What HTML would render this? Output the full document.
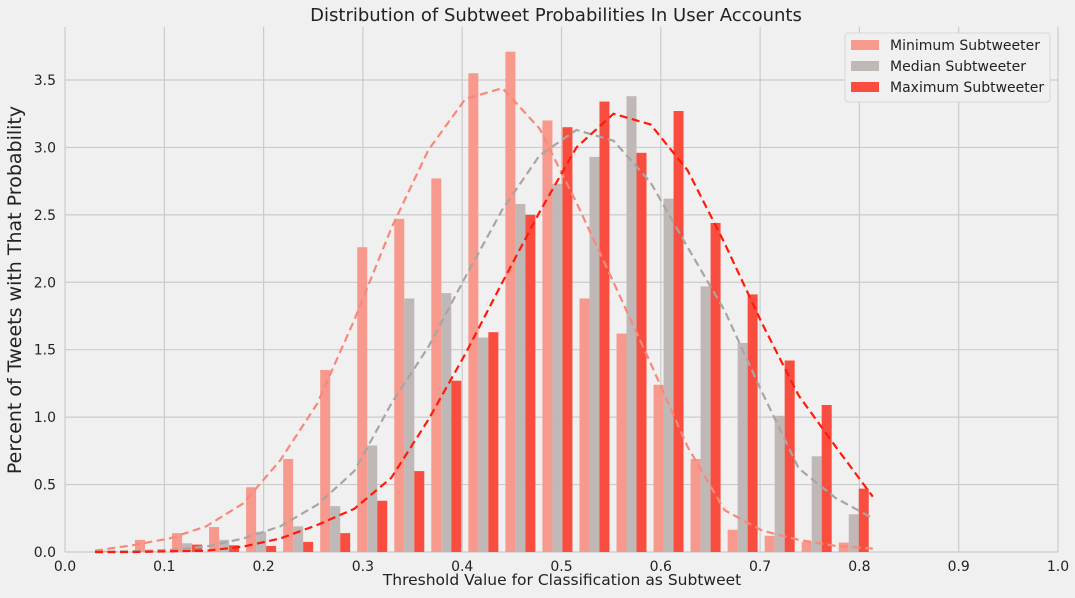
<!DOCTYPE html>
<html><head><meta charset="utf-8"><style>
html,body{margin:0;padding:0;background:#f0f0f0;}
svg{display:block;font-family:"DejaVu Sans","Liberation Sans",sans-serif;}
</style></head><body>
<svg id="chart" width="1075" height="598" viewBox="0 0 1075 598">
<rect width="1075" height="598" fill="#f0f0f0"/>
<g id="grid"></g>
<g id="bars"></g>
<g id="curves"></g>
<g id="ticks"></g>
<text x="556" y="21" font-size="18" text-anchor="middle" fill="#222">Distribution of Subtweet Probabilities In User Accounts</text>
<text x="562" y="585" font-size="15.5" text-anchor="middle" fill="#222">Threshold Value for Classification as Subtweet</text>
<text transform="translate(21,290) rotate(-90)" font-size="19" text-anchor="middle" fill="#222">Percent of Tweets with That Probability</text>
<g>
<rect x="845" y="33" width="205" height="69" rx="3" fill="#f0f0f0" stroke="#d8d8d8"/>
<rect x="851" y="40" width="28" height="10" fill="#f7998d"/>
<text x="890" y="50" font-size="14" fill="#222">Minimum Subtweeter</text>
<rect x="851" y="61" width="28" height="10" fill="#c0b8b7"/>
<text x="890" y="71" font-size="14" fill="#222">Median Subtweeter</text>
<rect x="851" y="82" width="28" height="10" fill="#f94e3f"/>
<text x="890" y="92" font-size="14" fill="#222">Maximum Subtweeter</text>
</g>
</svg>
<script>
const binStarts = [0.0332,0.0705,0.1078,0.1451,0.1824,0.2197,0.2570,0.2943,0.3316,0.3689,0.4062,0.4435,0.4808,0.5181,0.5554,0.5927,0.6300,0.6673,0.7046,0.7419,0.7792];
const minValues = [0.01,0.09,0.14,0.185,0.48,0.69,1.35,2.26,2.47,2.77,3.55,3.71,3.20,1.88,1.62,1.24,0.69,0.165,0.12,0.075,0.07];
const medValues = [0.005,0.01,0.065,0.09,0.15,0.19,0.34,0.79,1.88,1.92,1.59,2.58,2.73,2.93,3.38,2.62,1.97,1.55,1.01,0.71,0.28];
const maxValues = [0,0,0.055,0.05,0.045,0.075,0.14,0.38,0.60,1.27,1.63,2.50,3.15,3.34,2.96,3.27,2.44,1.91,1.42,1.09,0.47];
const curveX = [0.0302,0.0675,0.1048,0.1421,0.1794,0.2167,0.2540,0.2913,0.3286,0.3659,0.4032,0.4405,0.4778,0.5151,0.5524,0.5897,0.6270,0.6643,0.7016,0.7389,0.7762,0.8135];
const minCurve = [0.01,0.05,0.10,0.19,0.36,0.68,1.10,1.72,2.40,2.98,3.36,3.44,3.14,2.59,2.00,1.40,0.78,0.31,0.16,0.09,0.045,0.025];
const medCurve = [0,0.005,0.015,0.04,0.10,0.19,0.35,0.60,1.10,1.52,2.04,2.54,2.94,3.13,3.05,2.74,2.26,1.79,1.19,0.62,0.40,0.25];
const maxCurve = [0,0,0.005,0.01,0.04,0.10,0.20,0.32,0.55,0.98,1.47,2.00,2.52,3.00,3.25,3.17,2.83,2.29,1.70,1.16,0.78,0.41];
const xTicks = [0,0.1,0.2,0.3,0.4,0.5,0.6,0.7,0.8,0.9,1.0];
const yTicks = [0,0.5,1,1.5,2,2.5,3,3.5];

const NS = "http://www.w3.org/2000/svg";
const X0 = 65, XW = 993, Y0 = 552, YS = 134.86, YTOP = 27;
const xs = v => X0 + v * XW;
const ys = v => Y0 - v * YS;
function mk(tag, attrs, parent) {
  const e = document.createElementNS(NS, tag);
  for (const k in attrs) e.setAttribute(k, attrs[k]);
  parent.appendChild(e);
  return e;
}
const grid = document.getElementById('grid');
const ticks = document.getElementById('ticks');
xTicks.forEach(t => {
  const l = mk('line', {x1: xs(t), x2: xs(t), y1: YTOP, y2: Y0, stroke: '#cbcbcb', 'stroke-width': 1.2}, grid);
  
  
  const tx = mk('text', {x: xs(t), y: Y0 + 19, 'font-size': 14, 'text-anchor': 'middle', fill: '#222'}, ticks);
  tx.textContent = t.toFixed(1);
  
  
});
yTicks.forEach(t => {
  const l = mk('line', {x1: X0, x2: X0 + XW, y1: ys(t), y2: ys(t), stroke: '#cbcbcb', 'stroke-width': 1.2}, grid);
  
  
  const tx = mk('text', {x: X0 - 9, y: ys(t) + 5, 'font-size': 14, 'text-anchor': 'end', fill: '#222'}, ticks);
  tx.textContent = t.toFixed(1);
  
  
});
const bars = document.getElementById('bars');
const BW = 0.01007;
const series = [[minValues, '#f7998d', 'min'], [medValues, '#c0b8b7', 'median'], [maxValues, '#f94e3f', 'max']];
series.forEach((s, si) => {
  s[0].forEach((v, i) => {
    const x = xs(binStarts[i] + si * BW);
    const r = mk('rect', {x: x, y: ys(v), width: BW * XW, height: Math.max(0, Y0 - ys(v)), fill: s[1]}, bars);
    
    
  });
});
const curves = document.getElementById('curves');
[[minCurve, '#f7897a', 'min'], [medCurve, '#aaa4a3', 'median'], [maxCurve, '#ff1a0a', 'max']].forEach(c => {
  const pts = c[0].map((v, i) => xs(curveX[i]).toFixed(1) + ',' + ys(v).toFixed(1)).join(' ');
  const p = mk('polyline', {points: pts, fill: 'none', stroke: c[1], 'stroke-width': 2.2, 'stroke-dasharray': '8,4.5'}, curves);
  
  
});
</script>
</body></html>
